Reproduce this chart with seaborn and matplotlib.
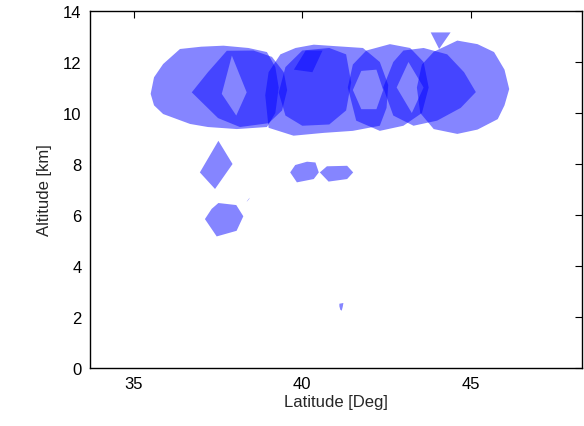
import numpy as np
import matplotlib
matplotlib.use("Agg")
import matplotlib.pyplot as plt
from matplotlib.path import Path
from matplotlib.patches import PathPatch
import seaborn as sns

# Cloud outlines (latitude in degrees, altitude in km)
west_lat = [35.50, 35.60, 35.87, 36.37, 37.00, 37.66, 38.40, 38.95, 39.20, 39.30, 39.20, 38.95, 38.06, 37.20, 36.67, 35.87, 35.60]
west_alt = [10.75, 11.40, 11.92, 12.51, 12.60, 12.64, 12.55, 12.39, 11.80, 11.00, 10.00, 9.45, 9.37, 9.45, 9.57, 9.96, 10.30]

west_ring_lat = [36.72, 37.20, 37.76, 38.55, 39.10, 39.45, 39.55, 39.40, 39.00, 38.15, 37.50]
west_ring_alt = [10.81, 11.60, 12.44, 12.45, 12.20, 11.60, 10.90, 10.10, 9.60, 9.45, 9.80]
west_hole_lat = [37.91, 38.35, 38.04, 37.61]
west_hole_alt = [12.25, 10.81, 9.90, 10.75]

center_lat = [38.90, 39.00, 39.35, 39.80, 40.34, 41.00, 41.80, 42.30, 42.55, 42.50, 42.30, 41.50, 40.63, 39.74, 39.00]
center_alt = [10.70, 11.60, 12.30, 12.55, 12.68, 12.62, 12.55, 12.00, 11.10, 10.20, 9.50, 9.30, 9.22, 9.11, 9.42]

core_lat = [39.30, 39.50, 40.00, 40.80, 41.30, 41.45, 41.30, 40.80, 40.00, 39.50]
core_alt = [10.80, 11.80, 12.45, 12.55, 12.30, 11.20, 10.10, 9.55, 9.50, 9.90]

tuft_lat = [39.75, 40.10, 40.60, 40.30]
tuft_alt = [11.70, 12.45, 12.45, 11.60]

east_ring_lat = [41.35, 41.50, 41.90, 42.60, 43.20, 43.60, 43.75, 43.55, 43.00, 42.30, 41.60]
east_ring_alt = [11.00, 11.90, 12.45, 12.70, 12.55, 12.00, 11.00, 10.00, 9.50, 9.30, 9.70]
east_hole_lat = [41.50, 41.75, 42.20, 42.40, 42.20, 41.75]
east_hole_alt = [10.90, 11.65, 11.70, 10.90, 10.15, 10.15]

ridge_lat = [42.40, 42.70, 43.00, 43.60, 44.30, 44.80, 45.15, 44.70, 44.00, 43.30, 42.70]
ridge_alt = [11.00, 12.00, 12.45, 12.55, 12.30, 11.60, 10.82, 10.20, 9.70, 9.50, 9.90]
ridge_hole_lat = [43.15, 43.60, 43.25, 42.80]
ridge_hole_alt = [12.00, 11.00, 10.00, 11.00]

far_east_lat = [43.40, 43.55, 43.90, 44.60, 45.20, 45.69, 46.00, 46.14, 46.00, 45.80, 45.20, 44.60, 43.90, 43.50]
far_east_alt = [11.00, 11.90, 12.40, 12.84, 12.70, 12.39, 11.70, 10.94, 10.30, 9.76, 9.35, 9.18, 9.37, 10.00]

cap_lat = [43.81, 44.40, 44.06]
cap_alt = [13.16, 13.16, 12.51]

mid_diamond_lat = [37.51, 37.93, 37.41, 36.96]
mid_diamond_alt = [8.91, 8.00, 7.02, 7.67]

low_hex_lat = [37.51, 38.04, 38.25, 38.05, 37.46, 37.11, 37.31]
low_hex_alt = [6.47, 6.39, 5.95, 5.38, 5.16, 5.84, 6.24]

speck_lat = [38.36, 38.44, 38.42, 38.35]
speck_alt = [6.55, 6.68, 6.62, 6.52]

pair_west_lat = [39.64, 39.79, 40.14, 40.39, 40.49, 40.34, 39.84]
pair_west_alt = [7.67, 7.96, 8.09, 8.06, 7.67, 7.41, 7.28]

pair_east_lat = [40.52, 40.73, 41.33, 41.51, 41.33, 40.78]
pair_east_alt = [7.67, 7.91, 7.93, 7.67, 7.41, 7.31]

low_fleck_lat = [41.10, 41.22, 41.20, 41.17, 41.13, 41.10]
low_fleck_alt = [2.52, 2.55, 2.40, 2.25, 2.28, 2.42]

solid_clouds = [
    (west_lat, west_alt),
    (center_lat, center_alt),
    (core_lat, core_alt),
    (tuft_lat, tuft_alt),
    (far_east_lat, far_east_alt),
    (cap_lat, cap_alt),
    (mid_diamond_lat, mid_diamond_alt),
    (low_hex_lat, low_hex_alt),
    (speck_lat, speck_alt),
    (pair_west_lat, pair_west_alt),
    (pair_east_lat, pair_east_alt),
    (low_fleck_lat, low_fleck_alt),
]
ring_clouds = [
    (west_ring_lat, west_ring_alt, west_hole_lat, west_hole_alt),
    (east_ring_lat, east_ring_alt, east_hole_lat, east_hole_alt),
    (ridge_lat, ridge_alt, ridge_hole_lat, ridge_hole_alt),
]

x_ticks = [35, 40, 45]
y_ticks = [0, 2, 4, 6, 8, 10, 12, 14]

sns.set_theme(style="white")
plt.rcParams["font.family"] = ["Liberation Sans", "DejaVu Sans"]
plt.rcParams.update({
    "xtick.direction": "in", "ytick.direction": "in",
    "xtick.top": True, "ytick.right": True,
    "xtick.major.size": 5, "ytick.major.size": 5,
    "xtick.major.width": 0.8, "ytick.major.width": 0.8,
    "xtick.color": "black", "ytick.color": "black",
    "axes.edgecolor": "black", "axes.linewidth": 1.0,
})

fig = plt.figure(figsize=(5.84, 4.27), dpi=100)
ax = fig.add_axes([90 / 584, 1 - 369 / 427, 492 / 584, 357 / 427])

face = (0.0, 0.0, 1.0)
alpha = 0.48


def ring_path(olat, oalt, ilat, ialt):
    outer = np.column_stack([olat, oalt])
    inner = np.column_stack([ilat, ialt])

    def area(p):
        x, y = p[:, 0], p[:, 1]
        return 0.5 * np.sum(x * np.roll(y, -1) - np.roll(x, -1) * y)

    if np.sign(area(outer)) == np.sign(area(inner)):
        inner = inner[::-1]
    verts, codes = [], []
    for ring in (outer, inner):
        verts.extend(ring.tolist())
        verts.append(ring[0].tolist())
        codes.extend([Path.MOVETO] + [Path.LINETO] * (len(ring) - 1) + [Path.CLOSEPOLY])
    return Path(verts, codes)


for lat, alt in solid_clouds:
    ax.fill(lat, alt, color=face, alpha=alpha, linewidth=0)

for olat, oalt, ilat, ialt in ring_clouds:
    ax.add_patch(PathPatch(ring_path(olat, oalt, ilat, ialt),
                           facecolor=face, alpha=alpha, linewidth=0))

ax.set_xlim(33.7, 48.3)
ax.set_ylim(0, 14)
ax.set_xticks(x_ticks)
ax.set_yticks(y_ticks)
ax.tick_params(labelsize=12, pad=6)
ax.set_xlabel("Latitude [Deg]", fontsize=12, labelpad=2)
ax.set_ylabel("Altitude [km]", fontsize=12, labelpad=8)
for s in ax.spines.values():
    s.set_visible(True)
    s.set_color("black")

fig.savefig("out.png", dpi=100, facecolor="white")
